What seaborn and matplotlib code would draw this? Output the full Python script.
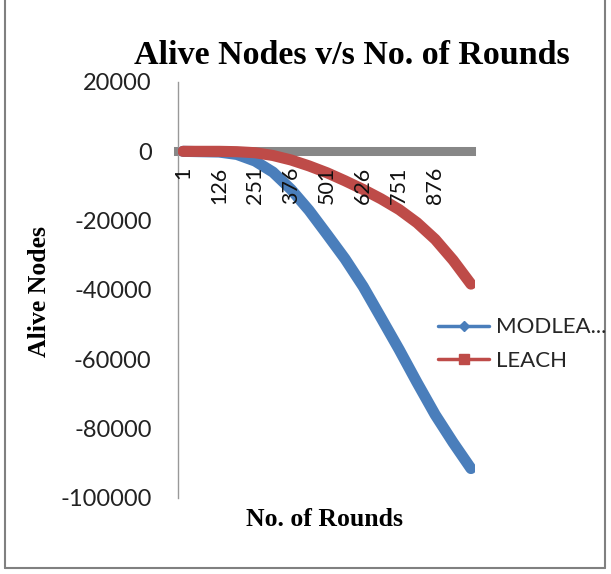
import numpy as np
import pandas as pd
import seaborn as sns
import matplotlib.pyplot as plt
from matplotlib.lines import Line2D

# ----------------------------- data ------------------------------
rounds = [1, 126, 188, 251, 313, 376, 438, 501, 563, 626, 688, 751, 813, 876, 938, 1000]
modleach = [0, -200, -900, -2800, -6000, -11000, -17000, -24000, -31000, -39000,
            -48000, -57200, -66700, -76000, -84000, -91500]
leach = [0, 0, -100, -400, -1200, -2500, -4200, -6200, -8500, -11000,
         -13700, -16800, -20600, -25400, -31400, -38300]
tick_rounds = [1, 126, 251, 376, 501, 626, 751, 876]
yticks = [20000, 0, -20000, -40000, -60000, -80000, -100000]
series_names = ["MODLEA...", "LEACH"]
colors = ["#4A7EBB", "#BE4B48"]

df = pd.DataFrame({
    "round": rounds * 2,
    "alive": modleach + leach,
    "series": [series_names[0]] * len(rounds) + [series_names[1]] * len(rounds),
})

# ----------------------------- style -----------------------------
sns.set_style("white")
plt.rcParams["font.family"] = ["Lato", "DejaVu Sans"]
serif = dict(family="Liberation Serif", weight="bold", color="black")

W, H = 611, 574
fig = plt.figure(figsize=(W / 100, H / 100), dpi=100)
ax = fig.add_axes([178 / W, 1 - 498 / H, (475 - 178) / W, (498 - 82) / H])

sns.lineplot(data=df, x="round", y="alive", hue="series", palette=colors,
             hue_order=series_names, linewidth=8, legend=False, ax=ax,
             solid_capstyle="round", solid_joinstyle="round", zorder=3)

# axis line sits at zero (set before tick labels, it resets the ticks)
for s in ["top", "right"]:
    ax.spines[s].set_visible(False)
ax.spines["bottom"].set_position(("data", 0))
ax.spines["left"].set_color("#999999")
ax.spines["left"].set_linewidth(1)
ax.spines["bottom"].set_color("#878787")
ax.spines["bottom"].set_linewidth(6.5)
ax.spines["bottom"].set_zorder(1)

ax.set_xlim(-16.4, 1014)
ax.set_ylim(-100000, 20000)
ax.spines["bottom"].set_bounds(-16.4, 1000)
ax.set_yticks(yticks)
ax.set_yticklabels([str(v) for v in yticks], fontsize=17, color="#222222")
ax.set_xticks(tick_rounds)
ax.set_xticklabels([str(v) for v in tick_rounds], rotation=90, fontsize=15.5,
                   color="#111111", va="top", ha="center")
ax.tick_params(axis="y", length=5, width=1, color="#888888", direction="out", pad=14)
ax.tick_params(axis="x", length=0, pad=11)
ax.xaxis.set_zorder(5)  # category labels drawn over the lines
ax.set_xlabel("")
ax.set_ylabel("")

# legend
handles = [
    Line2D([], [], color=colors[0], lw=2.5, marker="D", markersize=5),
    Line2D([], [], color=colors[1], lw=2.5, marker="s", markersize=7),
]
fig.legend(handles, series_names, loc="center left",
           bbox_to_anchor=(438 / W, 1 - 344 / H), frameon=False,
           borderpad=0, borderaxespad=0, handlelength=2.3, handletextpad=0.3,
           labelspacing=0.6, fontsize=16)

# titles
fig.text(352 / W, 1 - 56 / H, "Alive Nodes v/s No. of Rounds", ha="center",
         va="center", fontsize=24.5, **serif)
fig.text(40 / W, 1 - 291 / H, "Alive Nodes", rotation=90, ha="center",
         va="center", fontsize=18.5, **serif)
fig.text(324 / W, 1 - 520 / H, "No. of Rounds", ha="center", va="center",
         fontsize=18.5, **serif)

# chart border
for xs, ys in [([5, 5], [0, 568]), ([5, 605], [568, 568]), ([605, 605], [0, 568])]:
    fig.add_artist(Line2D([x / W for x in xs], [1 - y / H for y in ys],
                          color="#808080", lw=1.5))

fig.savefig("out.png", dpi=100)
